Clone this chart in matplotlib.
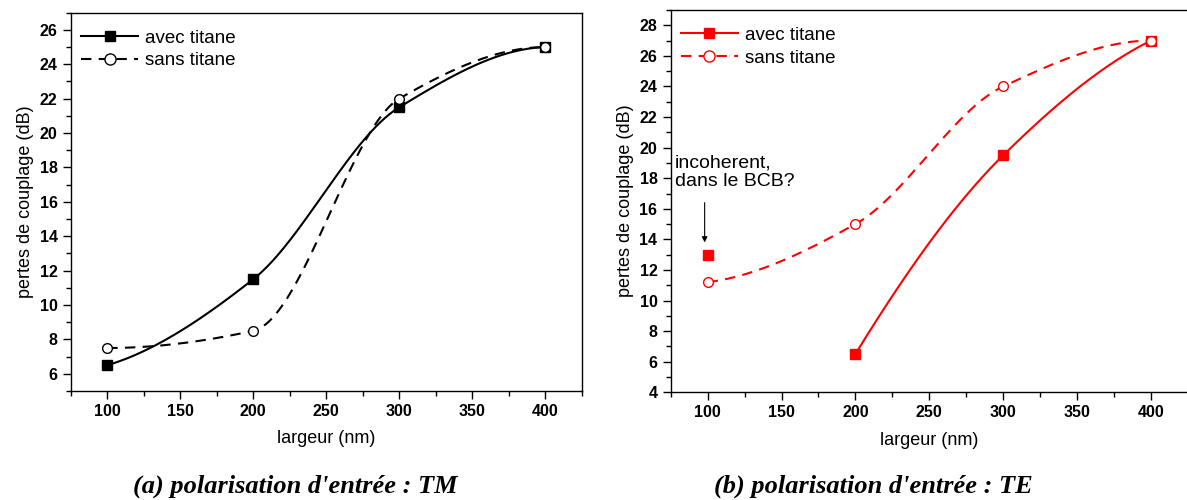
import numpy as np
import matplotlib
matplotlib.use('Agg')
import matplotlib.pyplot as plt
from matplotlib.ticker import MultipleLocator

plt.rcParams['font.family'] = ['Liberation Sans', 'DejaVu Sans']

largeur = [100, 200, 300, 400]

# (a) TM
tm_avec = [6.5, 11.5, 21.5, 25.0]
tm_sans = [7.5, 8.5, 22.0, 25.0]

# (b) TE
te_avec_x = [200, 300, 400]
te_avec = [6.5, 19.5, 27.0]
te_point_x = [100]
te_point = [13.0]
te_sans = [11.2, 15.0, 24.0, 27.0]


def pchip(x, y, n=200):
    # monotone cubic hermite, used only to draw the smooth connecting line
    x = np.asarray(x, float)
    y = np.asarray(y, float)
    h = np.diff(x)
    d = np.diff(y) / h
    m = np.zeros_like(y)
    for i in range(1, len(x) - 1):
        if d[i - 1] * d[i] > 0:
            w1 = 2 * h[i] + h[i - 1]
            w2 = h[i] + 2 * h[i - 1]
            m[i] = (w1 + w2) / (w1 / d[i - 1] + w2 / d[i])

    def end(h0, h1, d0, d1):
        s = ((2 * h0 + h1) * d0 - h0 * d1) / (h0 + h1)
        if np.sign(s) != np.sign(d0):
            s = 0.0
        elif np.sign(d0) != np.sign(d1) and abs(s) > abs(3 * d0):
            s = 3 * d0
        return s

    if len(x) > 2:
        m[0] = end(h[0], h[1], d[0], d[1])
        m[-1] = end(h[-1], h[-2], d[-1], d[-2])
    else:
        m[:] = d[0]
    xs = np.linspace(x[0], x[-1], n)
    idx = np.clip(np.searchsorted(x, xs) - 1, 0, len(x) - 2)
    t = (xs - x[idx]) / h[idx]
    h00 = 2 * t**3 - 3 * t**2 + 1
    h10 = t**3 - 2 * t**2 + t
    h01 = -2 * t**3 + 3 * t**2
    h11 = t**3 - t**2
    ys = h00 * y[idx] + h10 * h[idx] * m[idx] + h01 * y[idx + 1] + h11 * h[idx] * m[idx + 1]
    return xs, ys


def style_axes(ax, ylim, yticks):
    ax.set_xlim(75, 425)
    ax.set_ylim(*ylim)
    ax.set_xticks([100, 150, 200, 250, 300, 350, 400])
    ax.set_yticks(yticks)
    ax.xaxis.set_minor_locator(MultipleLocator(25))
    ax.yaxis.set_minor_locator(MultipleLocator(1))
    ax.tick_params(which='major', direction='out', length=6, width=1,
                   labelsize=11.5, top=False, right=False)
    ax.tick_params(which='minor', direction='out', length=3.5, width=1,
                   top=False, right=False)
    for lab in ax.get_xticklabels() + ax.get_yticklabels():
        lab.set_fontweight('bold')
    for sp in ax.spines.values():
        sp.set_linewidth(1.0)
    ax.set_xlabel('largeur (nm)', fontsize=13, labelpad=8)
    ax.set_ylabel('pertes de couplage (dB)', fontsize=13, labelpad=4)


DASH = (5, 3.5)

fig = plt.figure(figsize=(11.87, 5.0), dpi=100)
ax1 = fig.add_axes([0.0596, 0.218, 0.4305, 0.7566])
ax2 = fig.add_axes([0.5650, 0.2154, 0.4358, 0.7646])

# --- (a) TM ---
xs, ys = pchip(largeur, tm_avec)
ax1.plot(xs, ys, color='black', lw=1.5)
xs, ys = pchip(largeur, tm_sans)
ax1.plot(xs, ys, color='black', lw=1.5, dashes=DASH)
ax1.plot(largeur, tm_avec, ls='none', marker='s', ms=6.5, color='black')
ax1.plot(largeur, tm_sans, ls='none', marker='o', ms=7, mfc='white', mec='black', mew=1)
h1, = ax1.plot([], [], color='black', lw=1.5, marker='s', ms=7)
h2, = ax1.plot([], [], color='black', lw=1.5, dashes=DASH, marker='o', ms=8,
               mfc='white', mec='black', mew=1)
ax1.legend([h1, h2], ['avec titane', 'sans titane'], loc='upper left', frameon=False,
           fontsize=13.5, handlelength=3.0, handletextpad=0.4, labelspacing=0.3,
           bbox_to_anchor=(-0.012, 1.0), borderaxespad=0.5)
style_axes(ax1, (5, 27), np.arange(6, 27, 2))

# --- (b) TE ---
red = '#ff0000'
xs, ys = pchip(te_avec_x, te_avec)
ax2.plot(xs, ys, color=red, lw=1.5)
xs, ys = pchip(largeur, te_sans)
ax2.plot(xs, ys, color=red, lw=1.5, dashes=DASH)
ax2.plot(te_avec_x, te_avec, ls='none', marker='s', ms=6.5, color=red)
ax2.plot(te_point_x, te_point, ls='none', marker='s', ms=6.5, color=red)
ax2.plot(largeur, te_sans, ls='none', marker='o', ms=7, mfc='white', mec=red, mew=1)
h1, = ax2.plot([], [], color=red, lw=1.5, marker='s', ms=7)
h2, = ax2.plot([], [], color=red, lw=1.5, dashes=DASH, marker='o', ms=8,
               mfc='white', mec=red, mew=1)
ax2.legend([h1, h2], ['avec titane', 'sans titane'], loc='upper left', frameon=False,
           fontsize=13.5, handlelength=3.0, handletextpad=0.4, labelspacing=0.3,
           bbox_to_anchor=(-0.012, 1.0), borderaxespad=0.5)
ax2.text(78, 18.4, 'incoherent,\ndans le BCB?', fontsize=14, ha='left', va='center',
         linespacing=1.15)
ax2.annotate('', xy=(98, 13.8), xytext=(98, 16.4),
             arrowprops=dict(arrowstyle='-|>', color='black', lw=0.8,
                             mutation_scale=8, shrinkA=0, shrinkB=0))
style_axes(ax2, (4, 29), np.arange(4, 29, 2))

fig.text(0.249, 0.027, "(a) polarisation d'entrée : TM", fontsize=19,
         family='Liberation Serif', weight='bold', style='italic', ha='center', va='center')
fig.text(0.736, 0.027, "(b) polarisation d'entrée : TE", fontsize=19,
         family='Liberation Serif', weight='bold', style='italic', ha='center', va='center')

fig.savefig('out.png', dpi=100)
